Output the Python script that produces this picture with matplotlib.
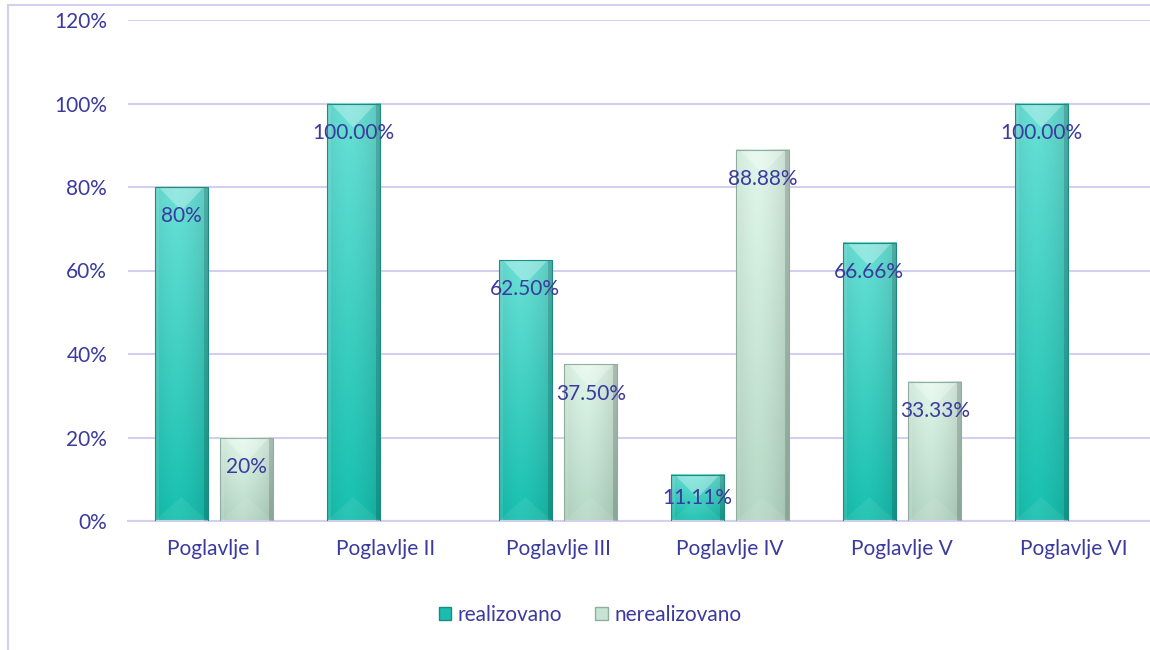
import numpy as np
import matplotlib
matplotlib.use('Agg')
import matplotlib.pyplot as plt
from matplotlib.patches import Polygon, Rectangle, Patch

categories = ['Poglavlje I', 'Poglavlje II', 'Poglavlje III', 'Poglavlje IV', 'Poglavlje V', 'Poglavlje VI']
realizovano = [80, 100, 62.5, 11.11, 66.66, 100]
nerealizovano = [20, 0, 37.5, 88.88, 33.33, 0]
real_labels = ['80%', '100.00%', '62.50%', '11.11%', '66.66%', '100.00%']
nereal_labels = ['20%', '', '37.50%', '88.88%', '33.33%', '']
yticks = [0, 20, 40, 60, 80, 100, 120]

text_color = '#3B3A9E'
grid_color = '#D3CFEF'

plt.rcParams['font.family'] = ['Lato', 'DejaVu Sans']
fs = 15

fig = plt.figure(figsize=(11.5, 6.5), dpi=100)
ax = fig.add_axes([128 / 1150, 129 / 650, 1032 / 1150, 501 / 650])

x = np.arange(len(categories))
w = 0.31
off = 0.19
bars_r = ax.bar(x - off, realizovano, w, color='none', edgecolor='none')
bars_n = ax.bar(x + off, nerealizovano, w, color='none', edgecolor='none')

px_y = 120 / 501     # data units per pixel, y
px_x = 1 / 172       # data units per pixel, x


def shade(bars, top_rgb, bot_rgb, edge):
    # fake excel bevel: gradient body + light top triangle, thin side strips
    top_rgb = np.array(matplotlib.colors.to_rgb(top_rgb))
    bot_rgb = np.array(matplotlib.colors.to_rgb(bot_rgb))
    for b in bars:
        x0 = b.get_x()
        bw = b.get_width()
        h = b.get_height()
        if h <= 0:
            continue
        x1 = x0 + bw
        xc = x0 + bw / 2
        t = np.linspace(0, 1, 64)[:, None, None]
        col = top_rgb * (1 - t) + bot_rgb * t
        u = np.linspace(0, 1, 32)
        hfac = 1.03 - 0.12 * (np.abs(u - 0.4) / 0.6) ** 1.5
        img = np.clip(col * hfac[None, :, None], 0, 1)
        ax.imshow(img, extent=(x0, x1, 0, h), origin='upper', aspect='auto',
                  interpolation='bilinear', zorder=2)
        d = min(24 * px_y, h / 2)
        s = 4 * px_x
        ax.add_patch(Polygon([(x0, h), (x1, h), (x1 - s, h - s * 501 / 120 / 172), (xc, h - d),
                              (x0 + s, h - s * 501 / 120 / 172)],
                             closed=True, facecolor='white', alpha=0.3, lw=0, zorder=3))
        ax.add_patch(Polygon([(x0, 0), (x1, 0), (xc, d)],
                             closed=True, facecolor='white', alpha=0.07, lw=0, zorder=3))
        ax.add_patch(Polygon([(x1, h), (x1, 0), (x1 - s, 0), (x1 - s, h)],
                             closed=True, facecolor='black', alpha=0.15, lw=0, zorder=3))
        ax.add_patch(Polygon([(x0, h), (x0, 0), (x0 + s, 0), (x0 + s, h)],
                             closed=True, facecolor='white', alpha=0.1, lw=0, zorder=3))
        ax.add_patch(Rectangle((x0, 0), bw, h, fill=False, edgecolor=edge, lw=0.8, zorder=4))


shade(bars_r, '#66DAD0', '#17BBAB', '#1A8C82')
shade(bars_n, '#D9F0E3', '#B2D3C1', '#8FAE9E')


def add_labels(bars, labels):
    for b, lab in zip(bars, labels):
        h = b.get_height()
        if not lab:
            continue
        y = h - 7 if h - 7 > h / 2 else h / 2
        ax.text(b.get_x() + b.get_width() / 2, y, lab, ha='center', va='center',
                fontsize=fs, color=text_color, zorder=5)


add_labels(bars_r, real_labels)
add_labels(bars_n, nereal_labels)

ax.set_xlim(-0.5, len(categories) - 0.5)
ax.set_ylim(0, 120)
ax.set_yticks(yticks)
ax.set_yticklabels([f'{v}%' for v in yticks])
ax.set_xticks(x)
ax.set_xticklabels(categories)
ax.tick_params(axis='y', length=0, pad=15, labelsize=fs, labelcolor=text_color)
ax.tick_params(axis='x', length=0, pad=13, labelsize=fs, labelcolor=text_color)
ax.set_axisbelow(True)
ax.grid(axis='y', color=grid_color, linewidth=1.5)
for side in ['left', 'right', 'top']:
    ax.spines[side].set_visible(False)
ax.spines['bottom'].set_color(grid_color)
ax.spines['bottom'].set_linewidth(1.5)

handles = [Patch(facecolor='#1CBDAE', edgecolor='#1A8C82'),
           Patch(facecolor='#C6E3D4', edgecolor='#8FAE9E')]
fig.legend(handles, ['realizovano', 'nerealizovano'], loc='center',
           bbox_to_anchor=(590 / 1150, 1 - 615 / 650), ncol=2, frameon=False,
           fontsize=fs, labelcolor=text_color, handlelength=0.6, handleheight=0.6,
           handletextpad=0.3, columnspacing=1.6)

fig.add_artist(Rectangle((8 / 1150, -0.05), 1.2, 1.05 - 5 / 650, transform=fig.transFigure,
                         fill=False, edgecolor=grid_color, lw=1.5))

fig.savefig('out.png', dpi=100)
